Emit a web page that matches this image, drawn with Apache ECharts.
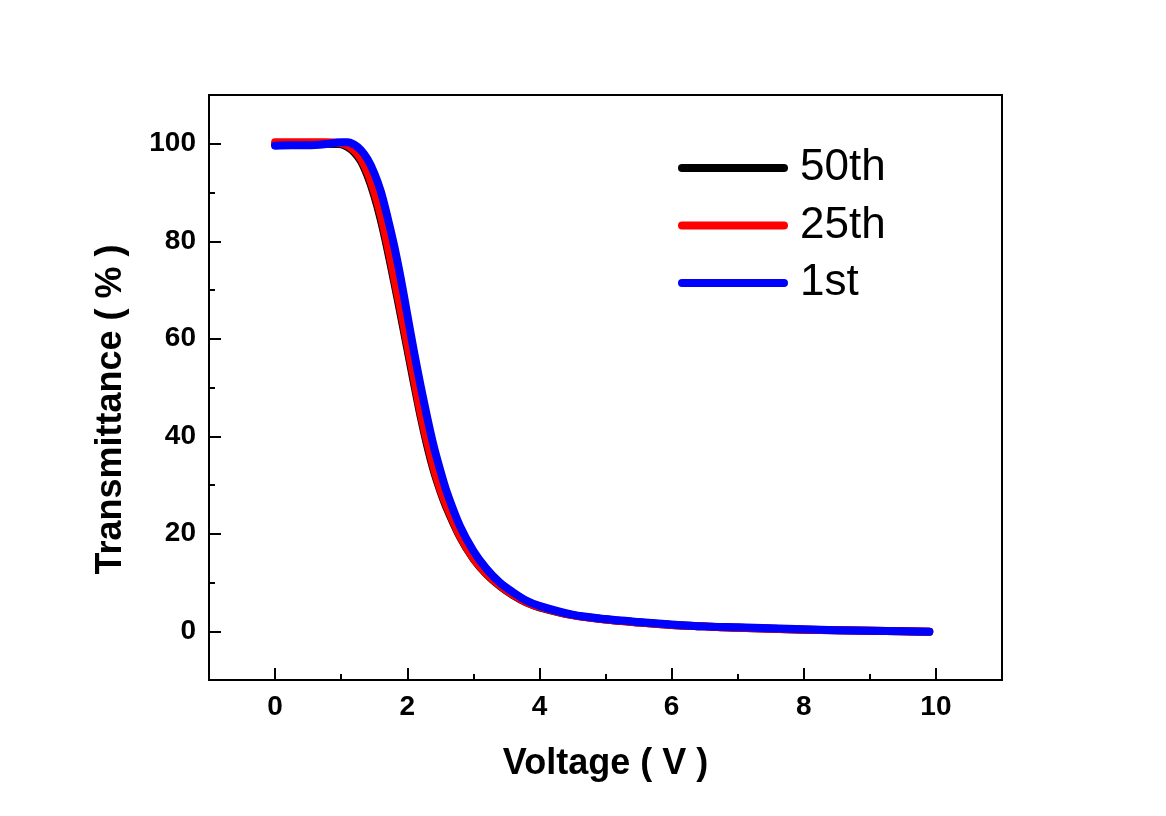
<!DOCTYPE html>
<html>
<head>
<meta charset="utf-8">
<script src="https://cdn.jsdelivr.net/npm/echarts@6/dist/echarts.min.js"></script>
<style>
  html, body { margin: 0; padding: 0; background: #fff; }
  #chart { width: 1166px; height: 816px; }
</style>
</head>
<body>
<div id="chart"></div>
<script>
// ---- data ----
const voltage = [0, 0.25, 0.5, 0.75, 1.0, 1.1, 1.2, 1.3, 1.4, 1.5, 1.6, 1.7, 1.8, 1.9, 2.0, 2.1, 2.2, 2.3, 2.4, 2.5, 2.6, 2.8, 3.0, 3.2, 3.4, 3.6, 3.8, 4.0, 4.5, 5.0, 5.5, 6.0, 6.5, 7.0, 7.5, 8.0, 8.5, 9.0, 9.5, 9.9];
const t50th = [99.9, 100.0, 100.0, 100.0, 99.9, 99.3, 98.2, 96.4, 93.4, 89.4, 84.4, 78.4, 71.8, 65.0, 58.0, 51.0, 44.2, 38.2, 33.0, 28.8, 25.2, 19.3, 14.9, 11.7, 9.3, 7.4, 5.9, 4.9, 3.3, 2.4, 1.8, 1.3, 1.0, 0.7, 0.5, 0.3, 0.2, 0.1, 0.0, -0.1];
const t25th = [100.3, 100.3, 100.3, 100.3, 100.1, 99.6, 98.6, 96.9, 94.1, 90.2, 85.4, 79.4, 72.8, 66.0, 59.0, 52.0, 45.0, 39.0, 33.6, 29.2, 25.6, 19.5, 15.0, 11.8, 9.4, 7.5, 6.0, 5.0, 3.3, 2.4, 1.8, 1.3, 1.0, 0.7, 0.5, 0.3, 0.2, 0.1, 0.0, -0.1];
const t1st  = [99.6, 99.7, 99.7, 99.9, 100.3, 100.3, 99.8, 98.7, 96.8, 94.0, 90.2, 85.0, 79.2, 72.5, 65.0, 57.5, 50.5, 44.0, 38.0, 33.0, 28.5, 21.5, 16.5, 12.8, 10.0, 8.0, 6.3, 5.2, 3.4, 2.5, 1.9, 1.4, 1.0, 0.8, 0.6, 0.4, 0.2, 0.1, 0.0, -0.1];
const seriesNames = ['50th', '25th', '1st'];
const seriesColors = ['#000000', '#ff0000', '#0000ff'];
const xMajorTicks = [0, 2, 4, 6, 8, 10];
const yMajorTicks = [0, 20, 40, 60, 80, 100];

function pairs(xs, ys) { return xs.map((x, i) => [x, ys[i]]); }
const seriesData = [t50th, t25th, t1st];

const FONT = 'Liberation Sans, Arial, sans-serif';
const chart = echarts.init(document.getElementById('chart'), null, { renderer: 'canvas' });

const option = {
  backgroundColor: '#ffffff',
  animation: false,
  grid: { left: 209, right: 164, top: 95, bottom: 136, show: true, borderColor: '#000', borderWidth: 2, backgroundColor: 'transparent' },
  legend: {
    orient: 'vertical',
    left: 673,
    top: 139,
    itemWidth: 102,
    itemHeight: 10,
    itemGap: 9.5,
    data: seriesNames,
    textStyle: { fontFamily: FONT, fontSize: 44, color: '#000', padding: [0, 0, 0, 11], lineHeight: 48 },
    lineStyle: { width: 8, cap: 'round' },
    itemStyle: { opacity: 0 }
  },
  xAxis: [
    {
      type: 'value', min: -1, max: 11, position: 'bottom',
      name: 'Voltage ( V )', nameLocation: 'middle', nameGap: 66,
      nameTextStyle: { fontFamily: FONT, fontSize: 36, fontWeight: 'bold', color: '#000' },
      axisLine: { show: true, onZero: false, lineStyle: { color: '#000', width: 2 } },
      axisTick: { show: true, inside: true, length: 12, lineStyle: { color: '#000', width: 2 }, customValues: xMajorTicks },
      axisLabel: { show: true, margin: 13, fontFamily: FONT, fontSize: 28, fontWeight: 'bold', color: '#000', customValues: xMajorTicks },
      splitLine: { show: false }
    },
    {
      type: 'value', min: -1, max: 11, interval: 1, position: 'bottom',
      axisLine: { show: false, onZero: false },
      axisTick: { show: true, inside: true, length: 6, lineStyle: { color: '#000', width: 2 } },
      axisLabel: { show: false },
      splitLine: { show: false }
    }
  ],
  yAxis: [
    {
      type: 'value', min: -10, max: 110, position: 'left',
      name: 'Transmittance ( % )', nameLocation: 'middle', nameGap: 80, nameRotate: 90,
      nameTextStyle: { fontFamily: FONT, fontSize: 36, fontWeight: 'bold', color: '#000', padding: [0, 44, 0, 0] },
      axisLine: { show: true, onZero: false, lineStyle: { color: '#000', width: 2 } },
      axisTick: { show: true, inside: true, length: 12, lineStyle: { color: '#000', width: 2 }, customValues: yMajorTicks },
      axisLabel: { show: true, margin: 13, fontFamily: FONT, fontSize: 28, fontWeight: 'bold', color: '#000', customValues: yMajorTicks },
      splitLine: { show: false }
    },
    {
      type: 'value', min: -10, max: 110, interval: 10, position: 'left',
      axisLine: { show: false, onZero: false },
      axisTick: { show: true, inside: true, length: 6, lineStyle: { color: '#000', width: 2 } },
      axisLabel: { show: false },
      splitLine: { show: false }
    }
  ],
  series: seriesNames.map((name, i) => ({
    name: name,
    type: 'line',
    xAxisIndex: 0,
    yAxisIndex: 0,
    data: pairs(voltage, seriesData[i]),
    smooth: 0.3,
    symbol: 'none',
    color: seriesColors[i],
    lineStyle: { color: seriesColors[i], width: 8, cap: 'round', join: 'round' }
  }))
};
chart.setOption(option);
</script>
</body>
</html>
